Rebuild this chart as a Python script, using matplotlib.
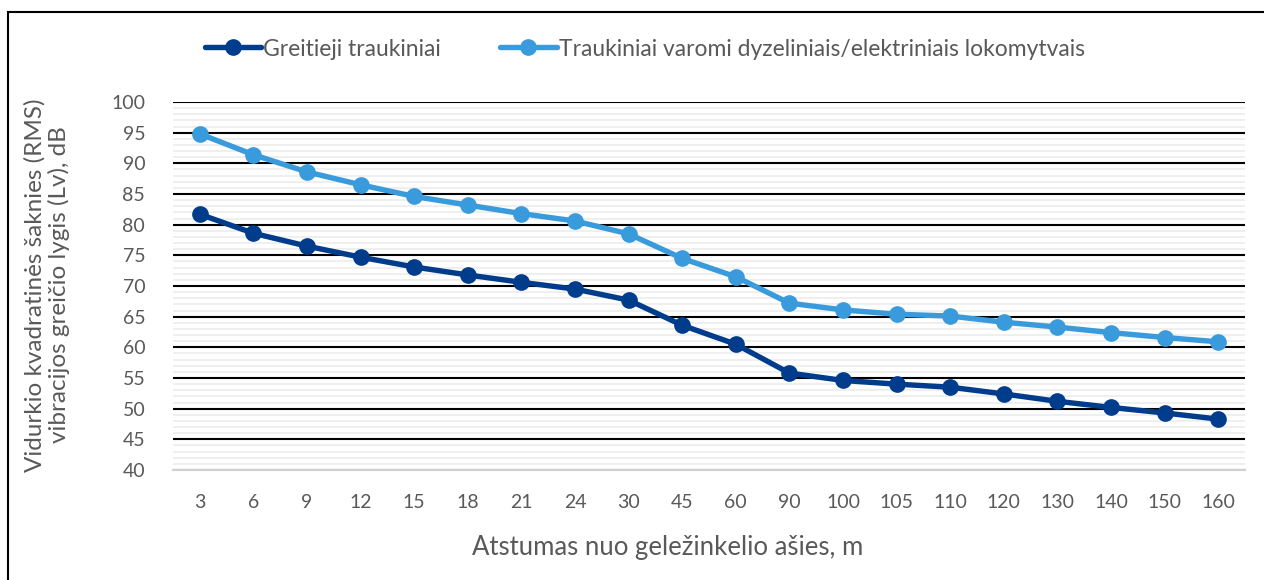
import matplotlib.pyplot as plt
import matplotlib.patches as patches
import numpy as np

distances = ["3", "6", "9", "12", "15", "18", "21", "24", "30", "45", "60",
             "90", "100", "105", "110", "120", "130", "140", "150", "160"]
greitieji = [81.7, 78.6, 76.5, 74.7, 73.1, 71.8, 70.6, 69.5, 67.7, 63.6, 60.5,
             55.8, 54.6, 54.0, 53.5, 52.4, 51.2, 50.2, 49.3, 48.3]
lokomotyvai = [94.8, 91.4, 88.6, 86.5, 84.6, 83.2, 81.8, 80.6, 78.5, 74.5, 71.5,
               67.2, 66.1, 65.4, 65.1, 64.1, 63.3, 62.4, 61.6, 60.9]
series_names = ["Greitieji traukiniai",
                "Traukiniai varomi dyzeliniais/elektriniais lokomytvais"]

plt.rcParams['font.family'] = ['Lato', 'DejaVu Sans']
text_color = '#595959'

fig = plt.figure(figsize=(12.64, 5.8), dpi=100)
ax = fig.add_axes([173 / 1264, 1 - 470 / 580, (1245 - 173) / 1264, (470 - 102) / 580])

x = np.arange(len(distances))
l1, = ax.plot(x, greitieji, color='#003C8C', lw=3.9, marker='o', ms=11,
              solid_capstyle='round', label=series_names[0], zorder=4)
l2, = ax.plot(x, lokomotyvai, color='#3A9BDC', lw=3.9, marker='o', ms=11,
              solid_capstyle='round', label=series_names[1], zorder=4)

ax.set_xlim(-0.5, len(distances) - 0.5)
ax.set_ylim(40, 100)
ax.set_yticks(np.arange(40, 101, 5))
ax.set_yticks(np.arange(40, 101, 1), minor=True)
ax.set_xticks(x)
ax.set_xticklabels(distances)

ax.grid(axis='y', which='major', color='black', lw=1.5, zorder=1)
ax.grid(axis='y', which='minor', color='#ececec', lw=1.2, zorder=0)
for s in ['top', 'right', 'left']:
    ax.spines[s].set_visible(False)
ax.spines['bottom'].set_color('#d0d0d0')
ax.spines['bottom'].set_linewidth(1.5)
ax.spines['bottom'].set_zorder(2)

ax.tick_params(axis='both', which='both', length=0, labelsize=14, colors=text_color)
ax.tick_params(axis='x', pad=17)
ax.tick_params(axis='y', pad=20)

ax.set_xlabel("Atstumas nuo geležinkelio ašies, m", fontsize=18.5, color=text_color, va='center')
ax.xaxis.set_label_coords((668 - 173) / 1072, (470 - 548) / 368)
ax.set_ylabel("Vidurkio kvadratinės šaknies (RMS)\nvibracijos greičio lygis (Lv), dB",
              fontsize=17.5, color=text_color, linespacing=1.1, va='center')
ax.yaxis.set_label_coords((47 - 173) / 1072, (470 - 285) / 368)

leg = fig.legend(handles=[l1, l2], loc='center left', bbox_to_anchor=(184 / 1264, 1 - 49 / 580),
                 ncol=2, frameon=False, fontsize=16.5, handlelength=2.45, handletextpad=0.1,
                 columnspacing=2.6, labelcolor=text_color)

border = patches.Rectangle((8 / 1264, -0.1), 1.1, 1 - 12 / 580 + 0.1, transform=fig.transFigure,
                           fill=False, edgecolor='black', lw=1.5, clip_on=False)
fig.patches.append(border)

fig.savefig('out.png', dpi=100)
